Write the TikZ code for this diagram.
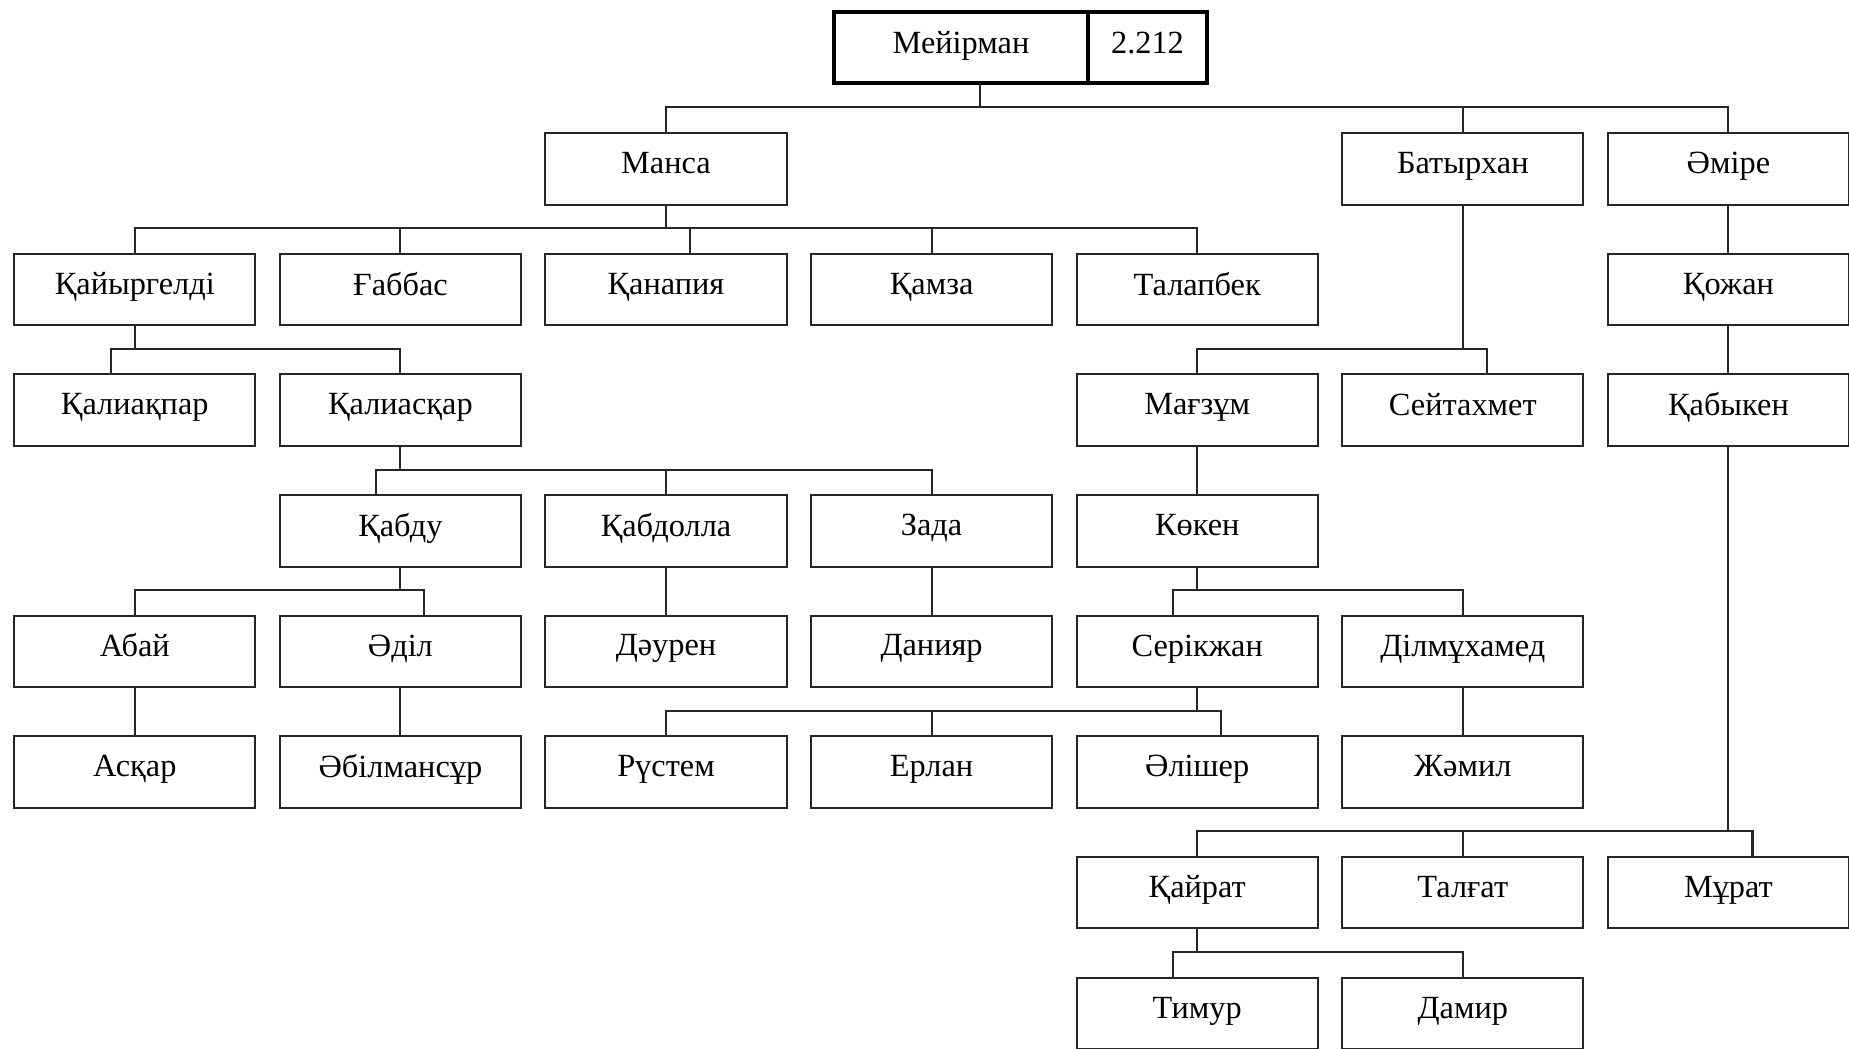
\documentclass[tikz,border=0pt]{standalone}
\usepackage{fontspec}
\setmainfont{Liberation Serif}
\usetikzlibrary{positioning,calc}

\begin{document}
\begin{tikzpicture}[
  x=0.01cm, y=-0.01cm,
  every node/.style={font=\fontsize{9.2}{11}\selectfont},
  person/.style={
    rectangle, draw=black!85, line width=0.55pt,
    minimum width=2.41cm, minimum height=0.715cm,
    inner sep=0pt, text depth=0.75ex
  },
  rootbox/.style={
    rectangle, draw=black, line width=1.1pt,
    minimum height=0.713cm, inner sep=0pt, outer sep=0pt,
    text depth=0.6ex
  },
  link/.style={
    draw=black!85, line width=0.6pt
  },
]
\useasboundingbox (0,0) rectangle (1849,1048);

% --- Root ---
\node[rootbox, minimum width=2.54cm] (meirman) at (961,47.3) {Мейірман};
\node[rootbox, minimum width=1.187cm, right=0pt of meirman] (number) {2.212};

% --- Level 1 ---
\node[person] (mansa)    at (666,169)    {Манса};
\node[person] (batyrhan) at (1462.8,169) {Батырхан};
\node[person] (amire)    at (1728.4,169) {Әміре};

% --- Level 2 ---
\node[person] (kaiyrgeldi) at (134.8,289.6)  {Қайыргелді};
\node[person] (gabbas)     at (400.4,289.6)  {Ғаббас};
\node[person] (kanapiya)   at (666,289.6)    {Қанапия};
\node[person] (kamza)      at (931.6,289.6)  {Қамза};
\node[person] (talapbek)   at (1197.2,289.6) {Талапбек};
\node[person] (kozhan)     at (1728.4,289.6) {Қожан};

% --- Level 3 ---
\node[person] (kaliakpar) at (134.8,410.2)  {Қалиақпар};
\node[person] (kaliaskar) at (400.4,410.2)  {Қалиасқар};
\node[person] (magzum)    at (1197.2,410.2) {Мағзұм};
\node[person] (seitahmet) at (1462.8,410.2) {Сейтахмет};
\node[person] (kabyken)   at (1728.4,410.2) {Қабыкен};

% --- Level 4 ---
\node[person] (kabdu)    at (400.4,530.8)  {Қабду};
\node[person] (kabdolla) at (666,530.8)    {Қабдолла};
\node[person] (zada)     at (931.6,530.8)  {Зада};
\node[person] (koken)    at (1197.2,530.8) {Көкен};

% --- Level 5 ---
\node[person] (abai)       at (134.8,651.4)  {Абай};
\node[person] (adil)       at (400.4,651.4)  {Әділ};
\node[person] (dauren)     at (666,651.4)    {Дәурен};
\node[person] (daniyar)    at (931.6,651.4)  {Данияр};
\node[person] (serikzhan)  at (1197.2,651.4) {Серікжан};
\node[person] (dilmuhamed) at (1462.8,651.4) {Ділмұхамед};

% --- Level 6 ---
\node[person] (askar)      at (134.8,772)  {Асқар};
\node[person] (abilmansur) at (400.4,772)  {Әбілмансұр};
\node[person] (rustem)     at (666,772)    {Рүстем};
\node[person] (erlan)      at (931.6,772)  {Ерлан};
\node[person] (alisher)    at (1197.2,772) {Әлішер};
\node[person] (zhamil)     at (1462.8,772) {Жәмил};

% --- Level 7 ---
\node[person] (kairat) at (1197.2,892.6) {Қайрат};
\node[person] (talgat) at (1462.8,892.6) {Талғат};
\node[person] (murat)  at (1728.4,892.6) {Мұрат};

% --- Level 8 ---
\node[person] (timur) at (1197.2,1013.6) {Тимур};
\node[person] (damir) at (1462.8,1013.6) {Дамир};

% --- Links ---
% root -> level 1
\draw[link] ([xshift=.19cm]meirman.south) -- ([xshift=.19cm,yshift=.25cm]meirman.south |- mansa.north) coordinate (b0);
\draw[link] (mansa.north) |- (b0);
\draw[link] (batyrhan.north) |- (b0);
\draw[link] (amire.north) |- (b0);

% Манса
\draw[link] (mansa.south) -- ([yshift=.245cm]mansa.south |- kanapiya.north) coordinate (b1);
\draw[link] (kaiyrgeldi.north) |- (b1);
\draw[link] (gabbas.north) |- (b1);
\draw[link] ([xshift=.24cm]kanapiya.north) |- (b1);
\draw[link] (kamza.north) |- (b1);
\draw[link] (talapbek.north) |- (b1);

% Қайыргелді
\draw[link] (kaiyrgeldi.south) -- ([yshift=.245cm]kaiyrgeldi.south |- kaliakpar.north) coordinate (b2);
\draw[link] ([xshift=-.24cm]kaliakpar.north) |- (b2);
\draw[link] (kaliaskar.north) |- (b2);

% Қалиасқар
\draw[link] (kaliaskar.south) -- ([yshift=.245cm]kaliaskar.south |- kabdu.north) coordinate (b3);
\draw[link] ([xshift=-.24cm]kabdu.north) |- (b3);
\draw[link] (kabdolla.north) |- (b3);
\draw[link] (zada.north) |- (b3);

% Қабду
\draw[link] (kabdu.south) -- ([yshift=.245cm]kabdu.south |- abai.north) coordinate (b4);
\draw[link] (abai.north) |- (b4);
\draw[link] ([xshift=.24cm]adil.north) |- (b4);

\draw[link] (abai) -- (askar);
\draw[link] (adil) -- (abilmansur);
\draw[link] (kabdolla) -- (dauren);
\draw[link] (zada) -- (daniyar);

% Батырхан
\draw[link] (batyrhan.south) -- ([yshift=.245cm]batyrhan.south |- magzum.north) coordinate (b5);
\draw[link] (magzum.north) |- (b5);
\draw[link] ([xshift=.24cm]seitahmet.north) |- (b5);

\draw[link] (magzum) -- (koken);

% Көкен
\draw[link] (koken.south) -- ([yshift=.245cm]koken.south |- serikzhan.north) coordinate (b6);
\draw[link] ([xshift=-.24cm]serikzhan.north) |- (b6);
\draw[link] (dilmuhamed.north) |- (b6);

% Серікжан
\draw[link] (serikzhan.south) -- ([yshift=.245cm]serikzhan.south |- alisher.north) coordinate (b7);
\draw[link] (rustem.north) |- (b7);
\draw[link] (erlan.north) |- (b7);
\draw[link] ([xshift=.24cm]alisher.north) |- (b7);

\draw[link] (dilmuhamed) -- (zhamil);

% Әміре
\draw[link] (amire) -- (kozhan);
\draw[link] (kozhan) -- (kabyken);

% Қабыкен
\draw[link] (kabyken.south) -- ([yshift=.245cm]kabyken.south |- kairat.north) coordinate (b8);
\draw[link] (kairat.north) |- (b8);
\draw[link] (talgat.north) |- (b8);
\draw[link] ([xshift=.24cm]murat.north) |- (b8);

% Қайрат
\draw[link] (kairat.south) -- ([yshift=.245cm]kairat.south |- timur.north) coordinate (b9);
\draw[link] ([xshift=-.24cm]timur.north) |- (b9);
\draw[link] (damir.north) |- (b9);

\end{tikzpicture}
\end{document}
